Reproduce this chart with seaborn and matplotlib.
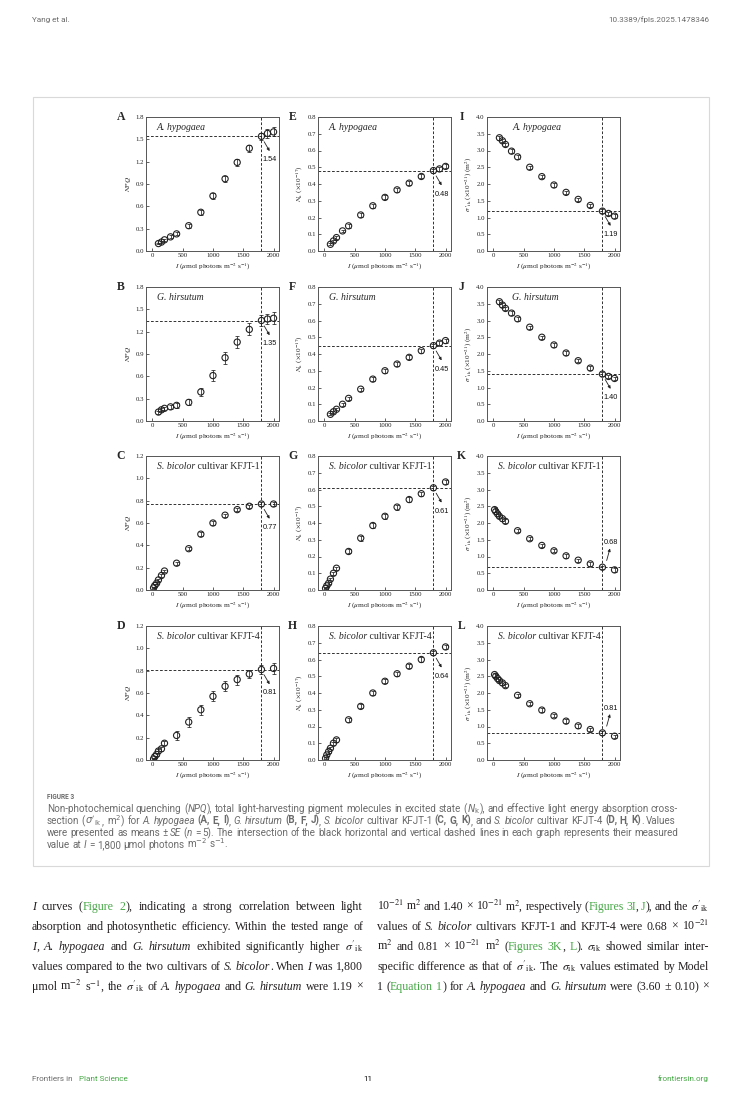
import matplotlib
matplotlib.use("Agg")
import matplotlib.pyplot as plt
import seaborn as sns
from matplotlib.patches import Rectangle

# === 1. Data ===
light_ah = [100, 150, 200, 300, 400, 600, 800, 1000, 1200, 1400, 1600, 1800, 1900, 2000]
light_sb = [20, 40, 70, 100, 150, 200, 400, 600, 800, 1000, 1200, 1400, 1600, 1800, 2000]

# NPQ
npq_hypogaea = [0.10, 0.12, 0.15, 0.19, 0.23, 0.34, 0.52, 0.74, 0.97, 1.19, 1.38, 1.54, 1.58, 1.60]
npq_hypogaea_se = [0.01, 0.01, 0.015, 0.02, 0.02, 0.025, 0.03, 0.035, 0.04, 0.045, 0.05, 0.05, 0.06, 0.06]
npq_hirsutum = [0.12, 0.15, 0.17, 0.19, 0.21, 0.25, 0.39, 0.61, 0.85, 1.06, 1.23, 1.35, 1.37, 1.38]
npq_hirsutum_se = [0.02, 0.02, 0.02, 0.025, 0.03, 0.04, 0.06, 0.07, 0.08, 0.08, 0.08, 0.07, 0.07, 0.08]
npq_kfjt1 = [0.02, 0.04, 0.06, 0.09, 0.13, 0.17, 0.24, 0.37, 0.50, 0.60, 0.67, 0.72, 0.75, 0.77, 0.77]
npq_kfjt1_se = [0.01, 0.01, 0.01, 0.01, 0.01, 0.01, 0.015, 0.015, 0.015, 0.015, 0.015, 0.015, 0.015, 0.015, 0.015]
npq_kfjt4 = [0.01, 0.03, 0.05, 0.08, 0.10, 0.15, 0.22, 0.34, 0.45, 0.57, 0.66, 0.72, 0.77, 0.81, 0.82]
npq_kfjt4_se = [0.01, 0.01, 0.01, 0.015, 0.015, 0.02, 0.04, 0.045, 0.045, 0.045, 0.045, 0.045, 0.04, 0.04, 0.05]

# N_k (x10^-17)
nk_hypogaea = [0.04, 0.06, 0.08, 0.12, 0.15, 0.215, 0.27, 0.32, 0.365, 0.405, 0.445, 0.48, 0.49, 0.505]
nk_hypogaea_se = [0.006, 0.006, 0.007, 0.008, 0.01, 0.01, 0.012, 0.012, 0.012, 0.012, 0.012, 0.012, 0.012, 0.012]
nk_hirsutum = [0.04, 0.055, 0.07, 0.10, 0.135, 0.19, 0.25, 0.30, 0.34, 0.38, 0.42, 0.45, 0.465, 0.48]
nk_hirsutum_se = [0.006, 0.006, 0.007, 0.008, 0.01, 0.01, 0.012, 0.012, 0.012, 0.012, 0.012, 0.012, 0.012, 0.012]
nk_kfjt1 = [0.01, 0.025, 0.04, 0.065, 0.10, 0.13, 0.23, 0.31, 0.385, 0.44, 0.495, 0.54, 0.575, 0.61, 0.645]
nk_kfjt1_se = [0.005, 0.005, 0.006, 0.007, 0.008, 0.01, 0.012, 0.015, 0.015, 0.015, 0.015, 0.015, 0.012, 0.012, 0.012]
nk_kfjt4 = [0.01, 0.03, 0.05, 0.07, 0.10, 0.12, 0.24, 0.32, 0.40, 0.47, 0.515, 0.56, 0.60, 0.64, 0.675]
nk_kfjt4_se = [0.005, 0.005, 0.006, 0.007, 0.008, 0.01, 0.012, 0.012, 0.012, 0.012, 0.012, 0.012, 0.012, 0.012, 0.012]

# sigma'_ik (x10^-21 m^2)
sig_hypogaea = [3.38, 3.29, 3.18, 2.98, 2.81, 2.50, 2.22, 1.97, 1.75, 1.54, 1.36, 1.19, 1.12, 1.04]
sig_hypogaea_se = [0.06, 0.05, 0.05, 0.05, 0.05, 0.05, 0.05, 0.05, 0.05, 0.05, 0.05, 0.05, 0.05, 0.05]
sig_hirsutum = [3.56, 3.46, 3.36, 3.22, 3.05, 2.80, 2.50, 2.27, 2.03, 1.80, 1.58, 1.40, 1.33, 1.27]
sig_hirsutum_se = [0.06, 0.05, 0.05, 0.05, 0.05, 0.05, 0.05, 0.05, 0.05, 0.05, 0.05, 0.05, 0.05, 0.05]
sig_kfjt1 = [2.40, 2.34, 2.27, 2.20, 2.13, 2.05, 1.77, 1.53, 1.33, 1.17, 1.02, 0.89, 0.78, 0.68, 0.60]
sig_kfjt1_se = [0.07, 0.07, 0.06, 0.06, 0.06, 0.06, 0.05, 0.05, 0.05, 0.05, 0.05, 0.05, 0.05, 0.05, 0.05]
sig_kfjt4 = [2.55, 2.50, 2.43, 2.37, 2.30, 2.22, 1.93, 1.68, 1.49, 1.32, 1.16, 1.02, 0.91, 0.81, 0.71]
sig_kfjt4_se = [0.06, 0.06, 0.06, 0.05, 0.05, 0.05, 0.05, 0.05, 0.05, 0.05, 0.05, 0.05, 0.05, 0.05, 0.05]

# values marked at I = 1800
marked_npq = [1.54, 1.35, 0.77, 0.81]
marked_nk = [0.48, 0.45, 0.61, 0.64]
marked_sig = [1.19, 1.40, 0.68, 0.81]

letters = [["A", "B", "C", "D"], ["E", "F", "G", "H"], ["I", "J", "K", "L"]]
species = ["A. hypogaea", "G. hirsutum", "S. bicolor", "S. bicolor"]
cultivars = ["", "", " cultivar KFJT-1", " cultivar KFJT-4"]

# === 2. Page setup ===
W, H = 736, 1100
sns.set_style("ticks")
plt.rcParams["font.family"] = ["Liberation Serif", "DejaVu Serif"]
plt.rcParams["mathtext.fontset"] = "stix"

fig = plt.figure(figsize=(W / 100, H / 100), dpi=100)
renderer = fig.canvas.get_renderer()

ink = "#222222"
green = "#47a847"
grey_txt = "#6b6b6b"

col_left = [146, 318, 487]
row_top = [117, 287, 456, 626]
ax_w, ax_h = 133, 134

xs = [light_ah, light_ah, light_sb, light_sb]
metrics = [
    dict(ys=[npq_hypogaea, npq_hirsutum, npq_kfjt1, npq_kfjt4],
         se=[npq_hypogaea_se, npq_hirsutum_se, npq_kfjt1_se, npq_kfjt4_se],
         marked=marked_npq, label=r"$NPQ$"),
    dict(ys=[nk_hypogaea, nk_hirsutum, nk_kfjt1, nk_kfjt4],
         se=[nk_hypogaea_se, nk_hirsutum_se, nk_kfjt1_se, nk_kfjt4_se],
         marked=marked_nk, label=r"$N_{\rm k}$ ($\times$10$^{-17}$)"),
    dict(ys=[sig_hypogaea, sig_hirsutum, sig_kfjt1, sig_kfjt4],
         se=[sig_hypogaea_se, sig_hirsutum_se, sig_kfjt1_se, sig_kfjt4_se],
         marked=marked_sig, label=r"$\sigma\ '_{\rm ik}$ ($\times$10$^{-21}$) (m$^{2}$)"),
]


def ylimits(col, row):
    if col == 0:
        return (1.8, 0.3) if row < 2 else (1.2, 0.2)
    if col == 1:
        return (0.8, 0.1)
    return (4.0, 0.5)


# === 3. Panels ===
for c, m in enumerate(metrics):
    for r in range(4):
        ax = fig.add_axes([col_left[c] / W, 1 - (row_top[r] + ax_h) / H, ax_w / W, ax_h / H])
        x, y, se = xs[r], m["ys"][r], m["se"][r]
        top, step = ylimits(c, r)
        val = m["marked"][r]

        ax.errorbar(x, y, yerr=se, fmt="none", ecolor=ink, elinewidth=0.55,
                    capsize=1.2, capthick=0.55, zorder=2)
        sns.scatterplot(x=x, y=y, ax=ax, marker="o", s=20, color="none",
                        edgecolor=ink, linewidth=0.8, zorder=3)

        ax.axhline(val, color=ink, lw=0.65, ls=(0, (3, 2)), zorder=1)
        ax.axvline(1800, color=ink, lw=0.65, ls=(0, (3, 2)), zorder=1)

        ax.set_xlim(-105, 2090)
        ax.set_ylim(0, top)
        ax.set_xticks([0, 500, 1000, 1500, 2000])
        n = int(round(top / step))
        ax.set_yticks([i * step for i in range(n + 1)])
        ax.set_yticklabels([f"{i * step:.1f}" for i in range(n + 1)])
        ax.tick_params(direction="in", length=2, width=0.5, labelsize=4.9,
                       pad=1.6, colors="#222222")
        for sp in ax.spines.values():
            sp.set_color("#555555")
            sp.set_linewidth(0.7)

        ax.set_xlabel(r"$I$ ($\mu$mol photons m$^{-2}$ s$^{-1}$)", fontsize=5.2, labelpad=2)
        ax.set_ylabel(m["label"], fontsize=5.2, labelpad=1.5)

        ax.text(-0.19, 1.0, letters[c][r], transform=ax.transAxes, ha="center",
                va="center", fontsize=8.5, fontweight="bold")

        # species name (italic) + cultivar (roman)
        sx = 0.19 if (c == 2 and r < 2) else 0.08
        t1 = ax.text(sx, 0.92, species[r], transform=ax.transAxes, ha="left",
                     va="center", fontsize=7, style="italic")
        if cultivars[r]:
            w1 = t1.get_window_extent(renderer).width / ax_w
            ax.text(sx + w1, 0.92, cultivars[r], transform=ax.transAxes, ha="left",
                    va="center", fontsize=7)

        rng = top
        if c == 2 and r >= 2:
            ax.annotate("", xy=(1925, val + 0.14 * rng), xytext=(1870, val + 0.05 * rng),
                        arrowprops=dict(arrowstyle="-|>", lw=0.6, color="#222222",
                                        mutation_scale=4, shrinkA=0, shrinkB=0))
            ax.text(1815, val + 0.185 * rng, f"{val:.2f}", ha="left", va="center",
                    fontsize=5.3, family="Liberation Sans", color="#111111")
        else:
            ax.annotate("", xy=(1935, val - 0.11 * rng), xytext=(1845, val - 0.04 * rng),
                        arrowprops=dict(arrowstyle="-|>", lw=0.6, color="#222222",
                                        mutation_scale=4, shrinkA=0, shrinkB=0))
            ax.text(1815, val - 0.175 * rng, f"{val:.2f}", ha="left", va="center",
                    fontsize=5.3, family="Liberation Sans", color="#111111")


# === 4. Page text ===
def put_line(x, y, segs, size, family, base, width=None, math="stix"):
    tokens = []
    pending = False
    for text, kw in segs:
        parts = text.split(" ")
        for i, p in enumerate(parts):
            if i > 0:
                pending = True
            if p == "":
                continue
            tokens.append((p, {**base, **kw}, pending and len(tokens) > 0))
            pending = False

    def measure(s, kw, fs):
        t = fig.text(0, 0, s, fontsize=fs, family=family, math_fontfamily=math, **kw)
        w = t.get_window_extent(renderer).width
        t.remove()
        return w

    ngaps = sum(1 for t in tokens if t[2])
    while True:
        space = measure("x x", {}, size) - measure("xx", {}, size)
        widths = [measure(s, kw, size) for s, kw, _ in tokens]
        gap = space
        if width is not None and ngaps:
            gap = (width - sum(widths)) / ngaps
            if gap < 0.75 * space and size > 5:
                size -= 0.1
                continue
        break
    cx = x
    for (s, kw, sp), w in zip(tokens, widths):
        if sp:
            cx += gap
        fig.text(cx / W, 1 - y / H, s, fontsize=size, family=family,
                 math_fontfamily=math, ha="left", va="baseline", **kw)
        cx += w


it = {"style": "italic"}
bd = {"weight": "bold"}
gr = {"color": green}
sig_p = r"$\sigma'_\mathrm{ik}$"
sig_n = r"$\sigma_\mathrm{ik}$"

# header
fig.text(32 / W, 1 - 22 / H, "Yang et al.", fontsize=5.9, family="Roboto", color=grey_txt)
fig.text(709 / W, 1 - 22 / H, "10.3389/fpls.2025.1478346", fontsize=5.9, family="Roboto",
         color=grey_txt, ha="right")

# figure box
fig.patches.append(Rectangle((33 / W, 1 - 866 / H), 676 / W, 769 / H, transform=fig.transFigure,
                             fill=False, ec="#d9d9d9", lw=0.8))

# caption
fig.text(47 / W, 1 - 799 / H, "FIGURE 3", fontsize=4.7, family="Roboto", color=grey_txt,
         weight="bold")
cap_base = {"color": grey_txt}
cap_lines = [
    [("Non-photochemical quenching (", {}), ("NPQ", it),
     ("), total light-harvesting pigment molecules in excited state (", {}),
     (r"$N_\mathrm{k}$", {}), ("), and effective light energy absorption cross-", {})],
    [("section (", {}), (sig_p, {}), (", m$^{2}$) for ", {}), ("A. hypogaea", it), (" ", {}),
     ("(A, E, I)", bd), (", ", {}), ("G. hirsutum", it), (" ", {}), ("(B, F, J)", bd),
     (", ", {}), ("S. bicolor", it), (" cultivar KFJT-1 ", {}), ("(C, G, K)", bd),
     (", and ", {}), ("S. bicolor", it), (" cultivar KFJT-4 ", {}), ("(D, H, K)", bd),
     (". Values", {})],
    [("were presented as means ± ", {}), ("SE", it), (" (", {}), ("n", it),
     (" = 5). The intersection of the black horizontal and vertical dashed lines in each graph represents their measured", {})],
    [("value at ", {}), ("I", it), (" = 1,800 μmol photons m$^{-2}$ s$^{-1}$.", {})],
]
for i, segs in enumerate(cap_lines):
    put_line(47, 812 + 12 * i, segs, 7.1, "Roboto", cap_base, math="dejavusans")

# body text, two justified columns
body_base = {"color": "#231f20"}
left_lines = [
    [("I", it), (" curves (", {}), ("Figure 2", gr),
     ("), indicating a strong correlation between light", {})],
    [("absorption and photosynthetic efficiency. Within the tested range of", {})],
    [("I", it), (", ", {}), ("A. hypogaea", it), (" and ", {}), ("G. hirsutum", it),
     (" exhibited significantly higher ", {}), (sig_p, {})],
    [("values compared to the two cultivars of ", {}), ("S. bicolor", it), (". When ", {}),
     ("I", it), (" was 1,800", {})],
    [("μmol m$^{-2}$ s$^{-1}$, the ", {}), (sig_p, {}), (" of ", {}), ("A. hypogaea", it),
     (" and ", {}), ("G. hirsutum", it), (" were 1.19 ×", {})],
]
right_lines = [
    [("10$^{-21}$ m$^{2}$ and 1.40 × 10$^{-21}$ m$^{2}$, respectively (", {}),
     ("Figures 3I", gr), (", ", {}), ("J", gr), ("), and the ", {}), (sig_p, {})],
    [("values of ", {}), ("S. bicolor", it), (" cultivars KFJT-1 and KFJT-4 were 0.68 × 10$^{-21}$", {})],
    [("m$^{2}$ and 0.81 × 10$^{-21}$ m$^{2}$ (", {}), ("Figures 3K", gr), (", ", {}), ("L", gr),
     ("). ", {}), (sig_n, {}), (" showed similar inter-", {})],
    [("specific difference as that of ", {}), (sig_p + ".", {}), (" The ", {}), (sig_n, {}),
     (" values estimated by Model", {})],
    [("1 (", {}), ("Equation 1", gr), (") for ", {}), ("A. hypogaea", it), (" and ", {}),
     ("G. hirsutum", it), (" were (3.60 ± 0.10) ×", {})],
]
for i, segs in enumerate(left_lines):
    put_line(32, 910 + 20 * i, segs, 8.6, "Liberation Serif", body_base, width=331)
for i, segs in enumerate(right_lines):
    put_line(377, 910 + 20 * i, segs, 8.6, "Liberation Serif", body_base, width=332)

# footer
fig.text(32 / W, 1 - 1081 / H, "Frontiers in ", fontsize=5.9, family="Roboto", color=grey_txt)
fig.text(32 / W + 0.0635, 1 - 1081 / H, "Plant Science", fontsize=5.9, family="Roboto", color=green)
fig.text(368 / W, 1 - 1081 / H, "11", fontsize=5.9, family="Roboto", color="#111111", ha="center")
fig.text(709 / W, 1 - 1081 / H, "frontiersin.org", fontsize=5.9, family="Roboto", color=green,
         ha="right")

fig.savefig("out.png", dpi=100)
